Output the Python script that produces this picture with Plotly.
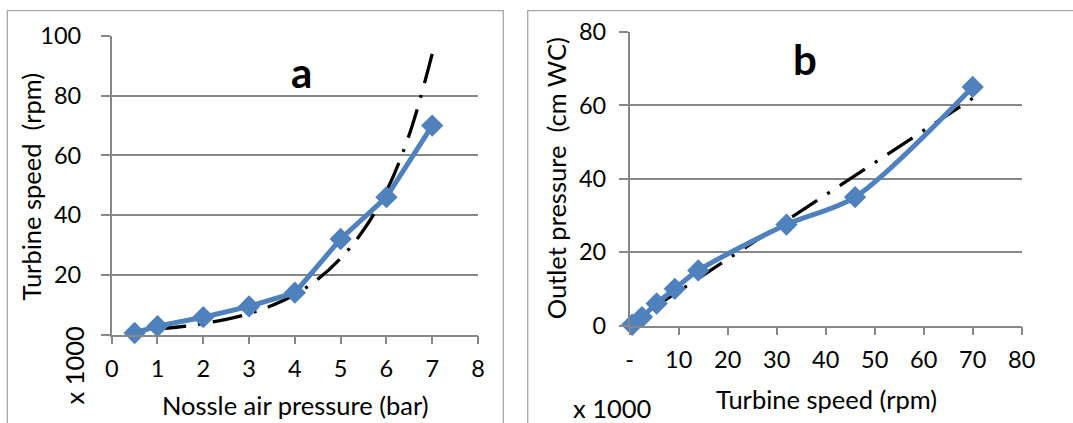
import plotly.graph_objects as go

W, H = 1073, 423

# ---------- data ----------
# chart a: nozzle air pressure (bar) vs turbine speed (rpm x1000)
pressure_bar = [0.5, 1, 2, 3, 4, 5, 6, 7]
speed_a = [0.5, 2.8, 5.8, 9.4, 14, 32, 46, 70]
# trend line
trend_a_x = [0.5, 1, 1.5, 2, 2.5, 3, 3.5, 4, 4.5, 5, 5.5, 6, 6.5, 7]
trend_a_y = [1.4, 1.9, 2.6, 3.7, 5.1, 7.0, 9.7, 13.4, 18.5, 25.5, 35, 48, 67, 94]

# chart b: turbine speed (rpm x1000) vs outlet pressure (cm WC)
speed_b = [0.5, 2.5, 5.5, 9.2, 14, 32, 46, 70]
outlet_cm = [0.2, 2.3, 6, 10, 15, 27.5, 35, 65]
trend_b_x = [0.5, 70]
trend_b_y = [1.0, 61.9]

a_xticks = [0, 1, 2, 3, 4, 5, 6, 7, 8]
a_yticks = [0, 20, 40, 60, 80, 100]
a_yticktext = ["", "20", "40", "60", "80", "100"]
b_xticks = [0, 10, 20, 30, 40, 50, 60, 70, 80]
b_xticktext = ["-", "10", "20", "30", "40", "50", "60", "70", "80"]
b_yticks = [0, 20, 40, 60, 80]

# ---------- style ----------
BLUE = "#4F81BD"
AXC = "#878787"
FONT = "Lato"

def px(x):
    return x / W

def py(y):
    return 1 - y / H

fig = go.Figure()

# trend lines drawn from their upper end so the dash phase matches
fig.add_trace(go.Scatter(x=trend_a_x[::-1], y=trend_a_y[::-1], mode="lines",
                         line=dict(color="black", width=3.3, dash="30px,12px,3px,12px", shape="spline"),
                         xaxis="x", yaxis="y", showlegend=False, cliponaxis=False))
fig.add_trace(go.Scatter(x=pressure_bar, y=speed_a, mode="lines+markers",
                         line=dict(color=BLUE, width=5),
                         marker=dict(symbol="diamond", size=15, color=BLUE, line=dict(color=BLUE, width=2)),
                         xaxis="x", yaxis="y", showlegend=False, cliponaxis=False))

fig.add_trace(go.Scatter(x=trend_b_x[::-1], y=trend_b_y[::-1], mode="lines",
                         line=dict(color="black", width=3.3, dash="3px,12px,30px,12px"),
                         xaxis="x2", yaxis="y2", showlegend=False, cliponaxis=False))
fig.add_trace(go.Scatter(x=speed_b, y=outlet_cm, mode="lines+markers",
                         line=dict(color=BLUE, width=5, shape="spline", smoothing=0.8),
                         marker=dict(symbol="diamond", size=15, color=BLUE, line=dict(color=BLUE, width=2)),
                         xaxis="x2", yaxis="y2", showlegend=False, cliponaxis=False))

tickfont = dict(family=FONT, size=23.5, color="black")
common_x = dict(showgrid=False, zeroline=False, showline=True, linecolor=AXC, linewidth=1.5,
                ticks="outside", ticklen=8, tickwidth=1.5, tickcolor=AXC, tickfont=tickfont,
                fixedrange=True, automargin=False)
common_y = dict(showgrid=True, gridcolor=AXC, gridwidth=1.5, zeroline=False, showline=True,
                linecolor=AXC, linewidth=1.5, ticks="outside", ticklen=9, tickwidth=1.5,
                tickcolor=AXC, tickfont=tickfont, fixedrange=True, automargin=False)

fig.update_layout(
    width=W, height=H,
    margin=dict(l=0, r=0, t=0, b=0, pad=0, autoexpand=False),
    paper_bgcolor="white", plot_bgcolor="white",
    font=dict(family=FONT, color="black"),
    xaxis=dict(domain=[px(111.7), px(478)], range=[0, 8], tickvals=a_xticks, anchor="y",
               ticklabelstandoff=5, **common_x),
    yaxis=dict(domain=[py(334.5), py(36)], range=[0, 100], tickvals=a_yticks, ticktext=a_yticktext,
               anchor="x", ticklabelstandoff=15, **common_y),
    xaxis2=dict(domain=[px(629.7), px(1021.7)], range=[0, 80], tickvals=b_xticks, ticktext=b_xticktext,
                anchor="y2", ticklabelstandoff=5, **common_x),
    yaxis2=dict(domain=[py(325.5), py(31.9)], range=[0, 80], tickvals=b_yticks, anchor="x2",
                ticklabelstandoff=8, **common_y),
)

FR = "#a6a6a6"
shapes = [
    dict(type="rect", xref="paper", yref="paper", x0=px(7.3), x1=px(503.3), y0=py(440), y1=py(10.7),
         line=dict(color=FR, width=1.3), fillcolor="rgba(0,0,0,0)", layer="below"),
    dict(type="rect", xref="paper", yref="paper", x0=px(527.7), x1=px(1090), y0=py(440), y1=py(10.7),
         line=dict(color=FR, width=1.3), fillcolor="rgba(0,0,0,0)", layer="below"),
]
fig.update_layout(shapes=shapes)

tf = dict(family=FONT, size=25.5, color="black")
ann = [
    dict(text="Nossle air pressure (bar)", x=px(295), y=py(405), font=tf),
    dict(text="Turbine speed  (rpm)", x=px(30), y=py(186.5), font=tf, textangle=-90),
    dict(text="x 1000", x=px(73.5), y=py(365), font=tf, textangle=-90),
    dict(text="<b>a</b>", x=px(301), y=py(72), font=dict(family=FONT, size=42, color="black")),
    dict(text="Turbine speed (rpm)", x=px(826), y=py(399), font=tf),
    dict(text="Outlet pressure  (cm WC)", x=px(556), y=py(178.3), font=tf, textangle=-90),
    dict(text="x 1000", x=px(612), y=py(407.5), font=tf),
    dict(text="<b>b</b>", x=px(805), y=py(58.5), font=dict(family=FONT, size=42, color="black")),
]
for a in ann:
    a.update(xref="paper", yref="paper", xanchor="center", yanchor="middle", showarrow=False)
fig.update_layout(annotations=ann)

fig.write_html("out.html", config={"displayModeBar": False},
               post_script="document.body.style.margin='0';document.body.style.overflow='hidden';")
